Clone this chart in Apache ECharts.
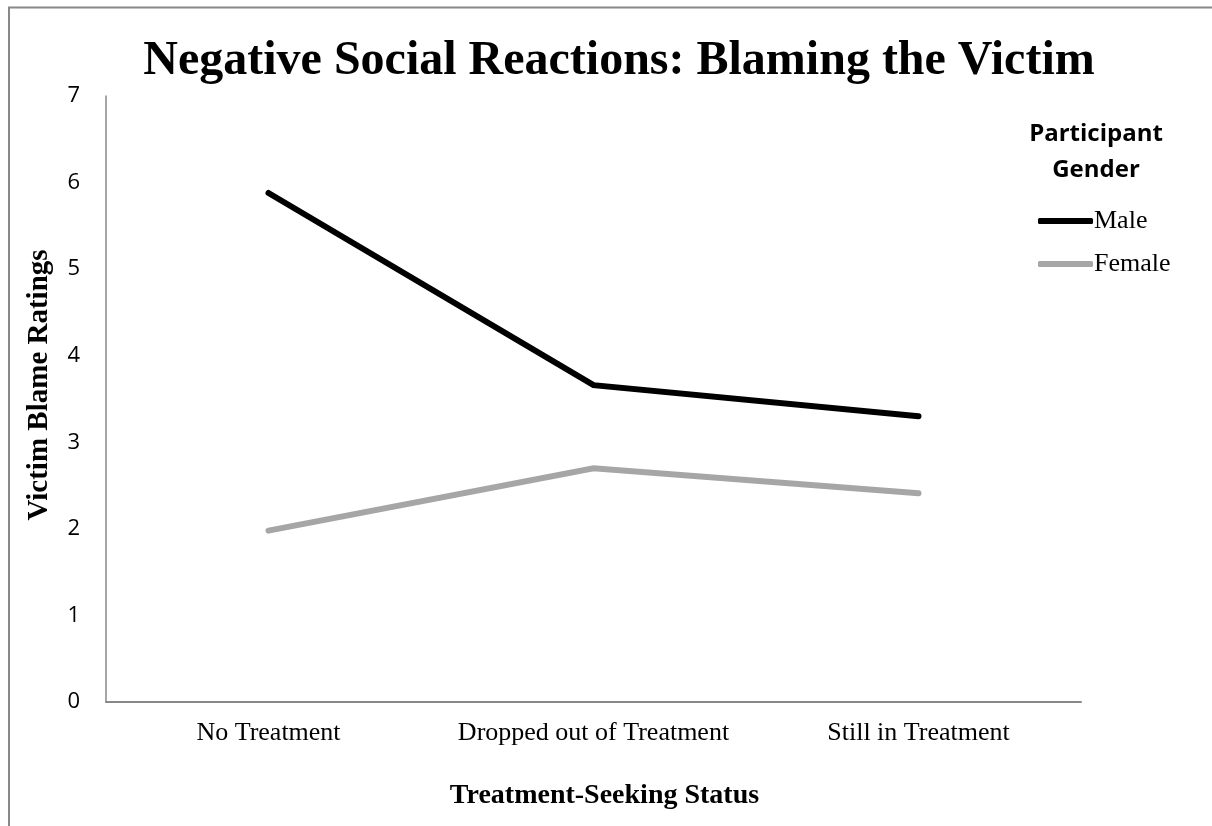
<!DOCTYPE html>
<html>
<head>
<meta charset="utf-8">
<script src="https://cdn.jsdelivr.net/npm/echarts@6/dist/echarts.min.js"></script>
<style>
html,body{margin:0;padding:0;background:#fff;}
#c{width:1212px;height:826px;}
</style>
</head>
<body>
<div id="c"></div>
<script>
var categories = ['No Treatment', 'Dropped out of Treatment', 'Still in Treatment'];
var maleValues = [5.88, 3.66, 3.30];
var femaleValues = [1.98, 2.70, 2.41];
var yTicks = [0, 1, 2, 3, 4, 5, 6, 7];

var chart = echarts.init(document.getElementById('c'), null, {renderer: 'canvas'});
var option = {
  backgroundColor: '#fff',
  animation: false,
  title: {
    text: 'Negative Social Reactions: Blaming the Victim',
    left: 614, top: 33, textAlign: 'center',
    textStyle: {fontFamily: 'Liberation Serif', fontWeight: 'bold', fontSize: 48, color: '#000'}
  },
  graphic: [
    {type: 'polyline', shape: {points: [[9, 826], [9, 7.5], [1212, 7.5]]},
     style: {stroke: '#888', lineWidth: 2, fill: null}},
    {type: 'text', x: 1096, y: 116, style: {
      text: 'Participant\nGender', align: 'center', verticalAlign: 'top',
      font: 'bold 24px "Open Sans", sans-serif', fill: '#000', lineHeight: 36
    }},
    {type: 'text', x: 40, y: 385, rotation: Math.PI / 2, style: {
      text: 'Victim Blame Ratings', align: 'center', verticalAlign: 'middle',
      font: 'bold 29px "Liberation Serif", serif', fill: '#000'
    }}
  ],
  legend: {
    data: ['Male', 'Female'],
    orient: 'vertical',
    left: 1033, top: 203,
    itemWidth: 55, itemHeight: 6, itemGap: 17,
    icon: 'roundRect',
    textStyle: {fontFamily: 'Liberation Serif', fontSize: 26, lineHeight: 26, color: '#000', padding: [0, 0, 0, -4]}
  },
  grid: {left: 106, right: 131, top: 96, bottom: 124, containLabel: false},
  xAxis: {
    type: 'category',
    data: categories,
    boundaryGap: true,
    name: 'Treatment-Seeking Status',
    nameLocation: 'middle',
    nameGap: 80,
    nameTextStyle: {fontFamily: 'Liberation Serif', fontWeight: 'bold', fontSize: 28, color: '#000', padding: [0, 0, 0, 22]},
    axisLine: {lineStyle: {color: '#888', width: 2}},
    axisTick: {show: false},
    axisLabel: {fontFamily: 'Liberation Serif', fontSize: 26, color: '#000', margin: 18, interval: 0, hideOverlap: false}
  },
  yAxis: {
    type: 'value',
    min: 0, max: 7, interval: 1,
    axisLine: {show: true, lineStyle: {color: '#888', width: 1.5}},
    axisTick: {show: false},
    splitLine: {show: false},
    axisLabel: {fontFamily: 'Open Sans', fontSize: 22, color: '#000', margin: 26,
      formatter: function (v) { return yTicks.indexOf(v) >= 0 ? String(v) : ''; }}
  },
  series: [
    {name: 'Male', type: 'line', data: maleValues, symbol: 'none',
     lineStyle: {color: '#000', width: 6, cap: 'round', join: 'miter'}, itemStyle: {color: '#000'}},
    {name: 'Female', type: 'line', data: femaleValues, symbol: 'none',
     lineStyle: {color: '#a6a6a6', width: 6, cap: 'round', join: 'miter'}, itemStyle: {color: '#a6a6a6'}}
  ]
};
chart.setOption(option);
</script>
</body>
</html>
